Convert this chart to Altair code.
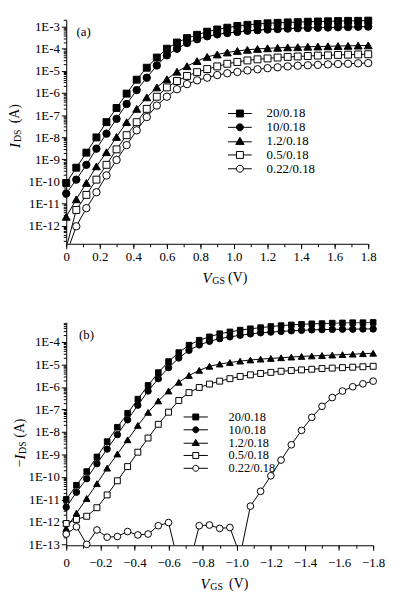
import altair as alt
import pandas as pd

FONT = "Liberation Serif"

NAMES = ["20/0.18", "10/0.18", "1.2/0.18", "0.5/0.18", "0.22/0.18"]
SHAPES = ["square", "circle", "triangle-up", "square", "circle"]
FILLS = ["black", "black", "black", "white", "white"]

V_A = [0.00, 0.06, 0.12, 0.18, 0.24, 0.30, 0.36, 0.42, 0.48, 0.54, 0.60, 0.66, 0.72, 0.78, 0.84, 0.90,
       0.96, 1.02, 1.08, 1.14, 1.20, 1.26, 1.32, 1.38, 1.44, 1.50, 1.56, 1.62, 1.68, 1.74, 1.80]
V_B = [0.00, -0.06, -0.12, -0.18, -0.24, -0.30, -0.36, -0.42, -0.48, -0.54, -0.60, -0.66, -0.72, -0.78, -0.84, -0.90,
       -0.96, -1.02, -1.08, -1.14, -1.20, -1.26, -1.32, -1.38, -1.44, -1.50, -1.56, -1.62, -1.68, -1.74, -1.80]

# log10 of the drain current
a_20 = [-10.07, -9.38, -8.70, -8.01, -7.32, -6.68, -6.03, -5.40, -4.86, -4.40, -4.00, -3.72, -3.52, -3.37, -3.23, -3.13,
        -3.05, -2.97, -2.92, -2.88, -2.85, -2.83, -2.81, -2.80, -2.78, -2.77, -2.76, -2.75, -2.74, -2.74, -2.73]
a_10 = [-10.55, -9.92, -9.25, -8.52, -7.84, -7.17, -6.50, -5.87, -5.31, -4.76, -4.30, -4.00, -3.74, -3.57, -3.44, -3.35,
        -3.29, -3.24, -3.19, -3.16, -3.13, -3.11, -3.09, -3.07, -3.06, -3.05, -3.04, -3.03, -3.02, -3.01, -3.00]
a_12 = [-11.60, -10.81, -10.07, -9.32, -8.68, -7.99, -7.32, -6.72, -6.20, -5.75, -5.38, -5.04, -4.79, -4.56, -4.37, -4.26,
        -4.17, -4.10, -4.05, -4.01, -3.98, -3.96, -3.94, -3.93, -3.91, -3.90, -3.89, -3.88, -3.87, -3.86, -3.85]
a_05 = [-13.00, -11.29, -10.61, -9.92, -9.25, -8.55, -7.91, -7.32, -6.72, -6.17, -5.75, -5.46, -5.23, -5.06, -4.92, -4.80,
        -4.68, -4.60, -4.53, -4.48, -4.44, -4.40, -4.37, -4.35, -4.33, -4.31, -4.30, -4.28, -4.27, -4.26, -4.25]
a_022 = [-13.30, -12.03, -11.21, -10.49, -9.73, -9.03, -8.36, -7.69, -7.09, -6.57, -6.17, -5.83, -5.60, -5.43, -5.31, -5.19,
         -5.11, -5.05, -4.98, -4.93, -4.88, -4.84, -4.80, -4.77, -4.75, -4.73, -4.71, -4.69, -4.68, -4.66, -4.65]

b_20 = [-11.00, -10.37, -9.76, -9.11, -8.43, -7.79, -7.17, -6.54, -5.93, -5.36, -4.87, -4.47, -4.14, -3.92, -3.77, -3.63,
        -3.55, -3.47, -3.41, -3.36, -3.31, -3.27, -3.24, -3.21, -3.19, -3.18, -3.16, -3.15, -3.14, -3.14, -3.13]
b_10 = [-11.35, -10.68, -10.08, -9.41, -8.76, -8.12, -7.46, -6.81, -6.18, -5.63, -5.14, -4.71, -4.37, -4.13, -3.97, -3.85,
        -3.77, -3.70, -3.64, -3.59, -3.56, -3.53, -3.50, -3.48, -3.46, -3.45, -3.44, -3.43, -3.43, -3.42, -3.42]
b_12 = [-12.30, -11.61, -10.96, -10.30, -9.61, -8.98, -8.35, -7.71, -7.13, -6.62, -6.18, -5.79, -5.49, -5.26, -5.08, -4.98,
        -4.91, -4.85, -4.80, -4.76, -4.73, -4.70, -4.67, -4.64, -4.62, -4.60, -4.58, -4.56, -4.54, -4.52, -4.50]
b_05 = [-12.07, -11.89, -11.75, -11.37, -10.80, -10.17, -9.54, -8.90, -8.27, -7.66, -7.12, -6.60, -6.25, -6.02, -5.87, -5.74,
        -5.63, -5.53, -5.46, -5.40, -5.35, -5.30, -5.27, -5.24, -5.21, -5.18, -5.16, -5.14, -5.12, -5.10, -5.08]
b_022 = [-12.54, -12.22, -13.00, -12.36, -12.68, -12.65, -12.43, -12.58, -12.54, -12.17, -12.03, -13.90, -14.00, -12.17, -12.14, -12.29,
         -12.25, -13.50, -11.30, -10.64, -9.95, -9.25, -8.57, -7.93, -7.35, -6.86, -6.47, -6.18, -5.99, -5.86, -5.74]

A_SERIES = [a_20, a_10, a_12, a_05, a_022]
B_SERIES = [b_20, b_10, b_12, b_05, b_022]

Y_MAJ_A = [1e-12, 1e-11, 1e-10, 1e-9, 1e-8, 1e-7, 1e-6, 1e-5, 1e-4, 1e-3]
Y_MAJ_B = [1e-13, 1e-12, 1e-11, 1e-10, 1e-9, 1e-8, 1e-7, 1e-6, 1e-5, 1e-4]
X_MAJ_A = [0, 0.2, 0.4, 0.6, 0.8, 1.0, 1.2, 1.4, 1.6, 1.8]
X_MIN_A = [0, 0.1, 0.2, 0.3, 0.4, 0.5, 0.6, 0.7, 0.8, 0.9, 1.0, 1.1, 1.2, 1.3, 1.4, 1.5, 1.6, 1.7, 1.8]
X_MAJ_B = [0, -0.2, -0.4, -0.6, -0.8, -1.0, -1.2, -1.4, -1.6, -1.8]
X_MIN_B = [0, -0.1, -0.2, -0.3, -0.4, -0.5, -0.6, -0.7, -0.8, -0.9, -1.0, -1.1, -1.2, -1.3, -1.4, -1.5, -1.6, -1.7, -1.8]


def minor_logs(lo, hi):
    out = []
    for e in range(-14, -1):
        for k in range(2, 10):
            val = float(f"{k}e{e}")
            if lo <= val <= hi:
                out.append(val)
    return out


def make_df(vs, series, sizes):
    rows = []
    for name, shp, fil, sz, vals in zip(NAMES, SHAPES, FILLS, sizes, series):
        for v, e in zip(vs, vals):
            rows.append({"series": name, "v": v, "i": 10 ** e, "shp": shp, "fil": fil, "sz": sz})
    return pd.DataFrame(rows)


def txt(s, x, y, size=14, italic=False, angle=0):
    return alt.Chart(pd.DataFrame({"t": [s]})).mark_text(
        align="left", baseline="middle", font=FONT, fontSize=size,
        fontStyle="italic" if italic else "normal", angle=angle, color="black"
    ).encode(text="t:N", x=alt.value(x), y=alt.value(y))


def legend_paths(L):
    return [
        f"M-{L},0H{L}M-1,-1H1V1H-1Z",
        f"M-{L},0H{L}M1,0A1,1,0,1,1,-1,0A1,1,0,1,1,1,0Z",
        f"M-{L},0.2H{L}M0,-1.1L1.2,0.95H-1.2Z",
        f"M-{L},0H-1M1,0H{L}M-1,-1H1V1H-1Z",
        f"M-{L},0H-1M1,0H{L}M1,0A1,1,0,1,1,-1,0A1,1,0,1,1,1,0Z",
    ]


def legend_layer(size, L, lx, ly, row_pad, lab_off, font_size):
    leg = alt.Legend(title=None, orient="none", legendX=lx, legendY=ly, labelFont=FONT,
                     labelFontSize=font_size, labelColor="black", labelOffset=lab_off, rowPadding=row_pad,
                     symbolSize=size, symbolStrokeColor="black", symbolStrokeWidth=1, padding=0,
                     labelLimit=200)
    return alt.Chart(pd.DataFrame({"series": NAMES})).transform_filter("false").mark_point(
        filled=True, stroke="black", strokeWidth=1, size=size, opacity=1
    ).encode(
        shape=alt.Shape("series:N", scale=alt.Scale(domain=NAMES, range=legend_paths(L)), legend=leg),
        fill=alt.Fill("series:N", scale=alt.Scale(domain=NAMES, range=FILLS), legend=leg),
    )


def major_axis(orient, values, label_expr, label_pad):
    return alt.Axis(orient=orient, values=values, labelExpr=label_expr, tickSize=5, labelPadding=label_pad,
                    labelFont=FONT, labelFontSize=13, labelColor="black", domainColor="black",
                    tickColor="black", tickWidth=1, domainWidth=1, grid=False, title=None,
                    labelFlush=False, labelOverlap=False)


def minor_axis(orient, values):
    return alt.Axis(orient=orient, values=values, labels=False, tickSize=3, domain=False,
                    tickColor="black", tickWidth=1, grid=False, title=None)


Y_LABEL = "'1E-' + round(-log(datum.value)/LN10)"
X_LABEL = "datum.value == 0 ? '0' : format(datum.value, '.1f')"


def panel(df, xdom, xrev, ydom, w, h, xmaj, xmin, ymaj, xlabpad, extra):
    xsc = alt.Scale(domain=xdom, reverse=xrev, nice=False, zero=False)
    ysc = alt.Scale(type="log", domain=ydom, nice=False)
    lines = alt.Chart(df).mark_line(clip=True, color="black", strokeWidth=1).encode(
        x=alt.X("v:Q", scale=xsc, axis=minor_axis("bottom", xmin)),
        y=alt.Y("i:Q", scale=ysc, axis=minor_axis("left", minor_logs(ydom[0], ydom[1]))),
        detail="series:N",
    )
    points = alt.Chart(df).transform_filter(f"datum.i >= {ydom[0]}").mark_point(
        filled=True, stroke="black", strokeWidth=1, opacity=1
    ).encode(
        x=alt.X("v:Q", scale=xsc, axis=major_axis("bottom", xmaj, X_LABEL, xlabpad)),
        y=alt.Y("i:Q", scale=ysc, axis=major_axis("left", ymaj, Y_LABEL, 2)),
        shape=alt.Shape("shp:N", scale=None),
        fill=alt.Fill("fil:N", scale=None),
        size=alt.Size("sz:Q", scale=None),
    )
    return alt.layer(lines, points, *extra).properties(width=w, height=h).resolve_axis(
        x="independent", y="independent")


df_a = make_df(V_A, A_SERIES, [49, 56, 64, 49, 56])
df_b = make_df(V_B, B_SERIES, [32, 42, 46, 36, 46])

extra_a = [
    legend_layer(49, 3.43, 169.5, 88.5, -1.5, 20.5, 13),
    txt("(a)", 10.5, 12, 13),
    txt("V", 138, 262, 15, italic=True),
    txt("GS", 148, 265, 10),
    txt("(V)", 164, 262, 14),
    txt("I", -51.5, 130, 15, italic=True, angle=270),
    txt("DS", -48.5, 124, 10, angle=270),
    txt("(A)", -51.5, 105, 14, angle=270),
]
extra_b = [
    legend_layer(36, 4.1, 125, 89.75, -3.5, 27, 12.5),
    txt("(b)", 13, 13, 13),
    txt("V", 136, 265, 15, italic=True),
    txt("GS", 146, 268, 10),
    txt("(V)", 165, 265, 14),
    txt("\u2212", -46.5, 147, 14, angle=270),
    txt("I", -46.5, 139, 15, italic=True, angle=270),
    txt("DS", -43.5, 133.5, 10, angle=270),
    txt("(A)", -46.5, 117, 14, angle=270),
]

pa = panel(df_a, [0, 1.8], False, [10 ** -12.82, 10 ** -2.69], 306, 227, X_MAJ_A, X_MIN_A, Y_MAJ_A, 2, extra_a)
pb = panel(df_b, [-1.8, 0], True, [10 ** -13.04, 10 ** -3.12], 311, 226, X_MAJ_B, X_MIN_B, Y_MAJ_B, 6.5, extra_b)

chart = alt.vconcat(pa, pb, spacing=31.5).resolve_scale(
    x="independent", y="independent", shape="independent", fill="independent"
).resolve_legend(shape="independent", fill="independent").properties(
    padding={"left": 0, "top": 3, "right": 0, "bottom": 0}
).configure_view(stroke=None)

chart.save("out.html", embed_options={"renderer": "svg", "actions": False})
